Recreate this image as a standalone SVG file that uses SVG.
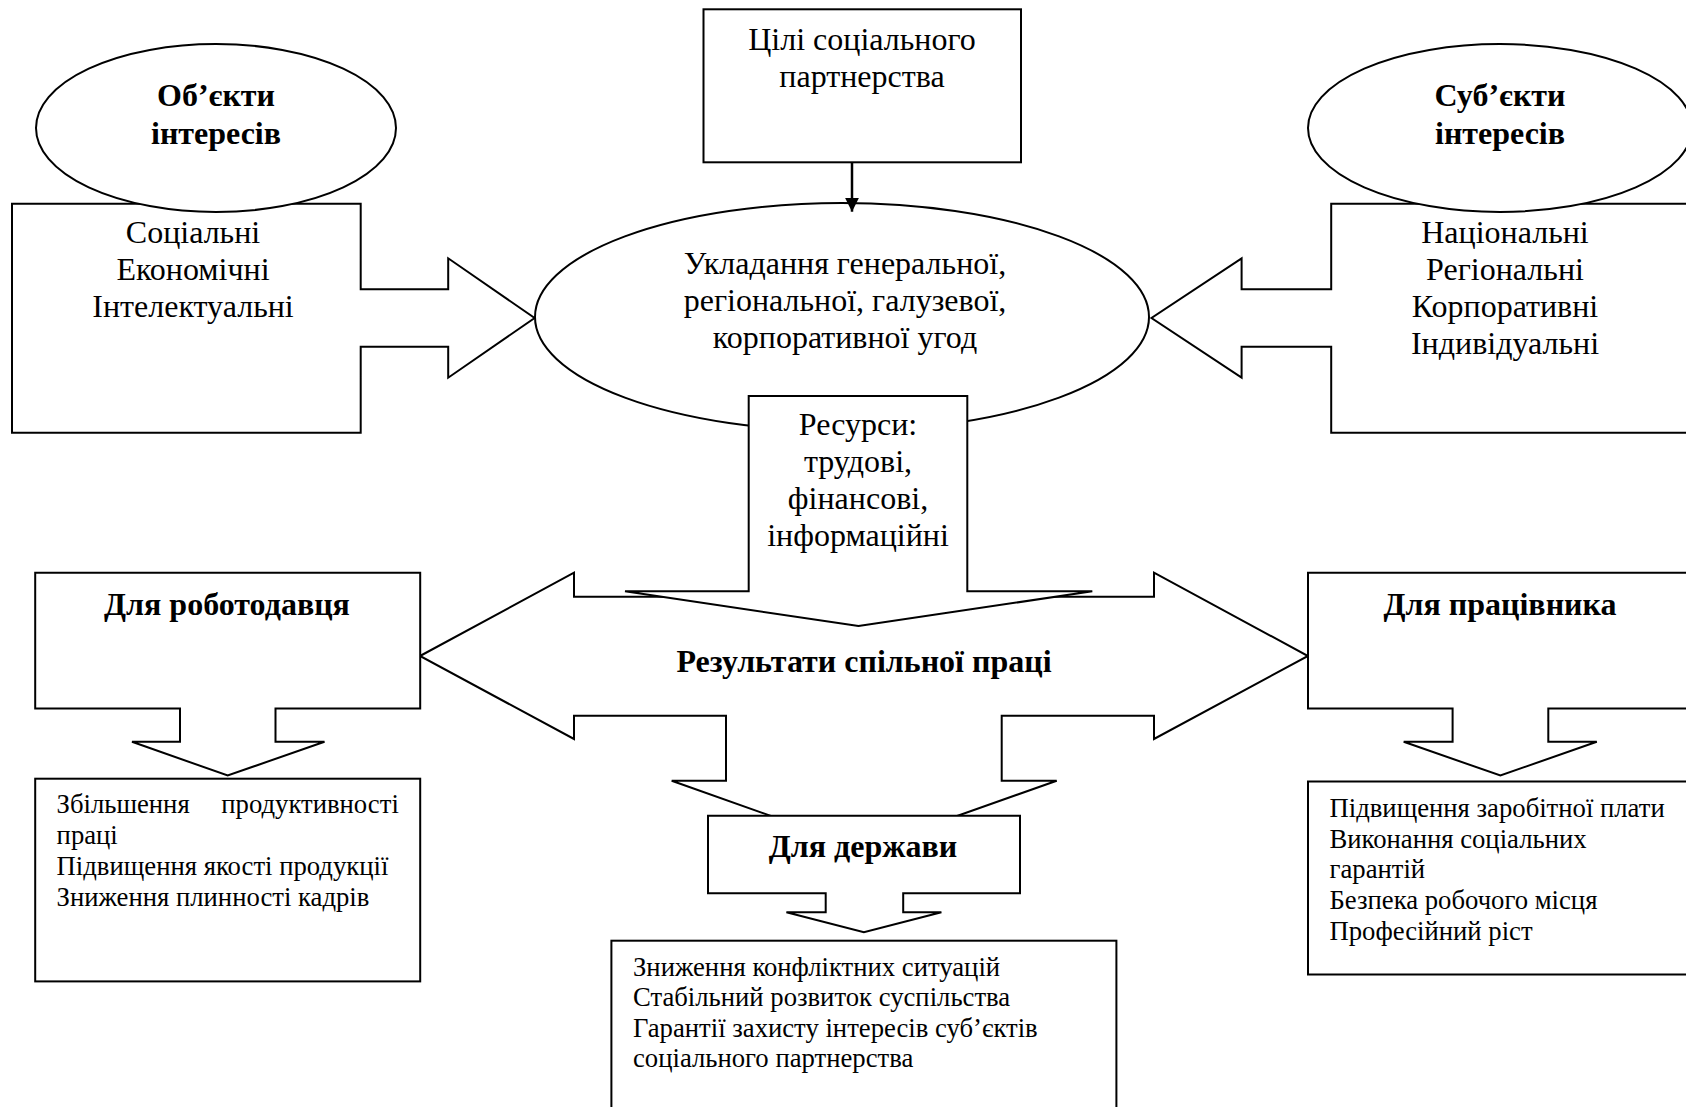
<svg xmlns="http://www.w3.org/2000/svg" width="1686" height="1107" viewBox="0 0 1686 1107">
<style>
.s{fill:#fff;stroke:#000;stroke-width:2;stroke-linejoin:miter}
.t{font-family:"Liberation Serif","Times New Roman",serif;font-size:32px;fill:#000;text-anchor:middle}
.b{font-weight:bold}
.sm{font-family:"Liberation Serif","Times New Roman",serif;font-size:26.7px;fill:#000}
</style>
<defs>
<marker id="ah" markerWidth="14" markerHeight="14" refX="14" refY="7" orient="auto" markerUnits="userSpaceOnUse" viewBox="0 0 14 14">
<path d="M0,0 L14,7 L0,14 Z" fill="#000"/>
</marker>
</defs>
<rect width="1686" height="1107" fill="#fff"/>

<g id="objects-box">
<path class="s" d="M12,203.7 H360.7 V289.3 H448.2 V258.3 L534.6,318 L448.2,377.7 V346.7 H360.7 V432.7 H12 Z"/>
<text class="t" x="193" y="243">Соціальні</text>
<text class="t" x="193" y="280">Економічні</text>
<text class="t" x="193" y="317">Інтелектуальні</text>
</g>
<g id="objects-ellipse">
<ellipse class="s" cx="216" cy="128" rx="180" ry="84"/>
<text class="t b" x="216" y="106">Об’єкти</text>
<text class="t b" x="216" y="144">інтересів</text>
</g>

<g id="subjects-box">
<path class="s" d="M1700,203.7 H1331.2 V289.3 H1241.6 V258.3 L1151.5,318 L1241.6,377.7 V346.7 H1331.2 V432.7 H1700 Z"/>
<text class="t" x="1505" y="243">Національні</text>
<text class="t" x="1505" y="280">Регіональні</text>
<text class="t" x="1505" y="317">Корпоративні</text>
<text class="t" x="1505" y="354">Індивідуальні</text>
</g>
<g id="subjects-ellipse">
<ellipse class="s" cx="1500" cy="128" rx="192" ry="84"/>
<text class="t b" x="1500" y="106">Суб’єкти</text>
<text class="t b" x="1500" y="144">інтересів</text>
</g>

<g id="goals">
<rect class="s" x="703.5" y="9.3" width="317.5" height="153"/>
<text class="t" x="862" y="50">Цілі соціального</text>
<text class="t" x="862" y="87">партнерства</text>
</g>

<g id="agreements">
<ellipse class="s" cx="842" cy="317" rx="307" ry="114"/>
<text class="t" x="845" y="274">Укладання генеральної,</text>
<text class="t" x="845" y="311">регіональної, галузевої,</text>
<text class="t" x="845" y="348">корпоративної угод</text>
</g>

<g id="results">
<path class="s" d="M420,656 L574,572.7 V596.7 H1154 V572.7 L1308,656 L1154,739 V715.7 H1001.7 V780.7 H1056.7 L864,849 L671.7,780.7 H726 V715.7 H574 V739 Z"/>
<text class="t b" x="864" y="672">Результати спільної праці</text>
</g>

<g id="resources">
<path class="s" d="M748.7,396 H967.3 V591.3 H1092.3 L858.5,626 L625,591.3 H748.7 Z"/>
<text class="t" x="858" y="435">Ресурси:</text>
<text class="t" x="858" y="472">трудові,</text>
<text class="t" x="858" y="509">фінансові,</text>
<text class="t" x="858" y="546">інформаційні</text>
</g>

<g id="employer">
<path class="s" d="M35.2,572.8 H420.2 V708.5 H275.5 V741.8 H324.5 L227.7,775.5 L132,741.8 H180 V708.5 H35.2 Z"/>
<text class="t b" x="227" y="615">Для роботодавця</text>
</g>
<g id="employer-results">
<rect class="s" x="35.2" y="778.7" width="385" height="202.7"/>
<text class="sm" x="56.6" y="813">Збільшення</text>
<text class="sm" x="398.8" y="813" text-anchor="end">продуктивності</text>
<text class="sm" x="56.6" y="844">праці</text>
<text class="sm" x="56.6" y="875">Підвищення якості продукції</text>
<text class="sm" x="56.6" y="906">Зниження плинності кадрів</text>
</g>

<g id="worker">
<path class="s" d="M1700,572.8 H1308 V708.5 H1452.6 V741.8 H1403.7 L1500.4,775.5 L1596.8,741.8 H1548.3 V708.5 H1700 Z"/>
<text class="t b" x="1500" y="615">Для працівника</text>
</g>
<g id="worker-results">
<rect class="s" x="1308" y="781.5" width="400" height="193"/>
<text class="sm" x="1329.5" y="817">Підвищення заробітної плати</text>
<text class="sm" x="1329.5" y="847.7">Виконання соціальних</text>
<text class="sm" x="1329.5" y="878.4">гарантій</text>
<text class="sm" x="1329.5" y="909.1">Безпека робочого місця</text>
<text class="sm" x="1329.5" y="939.8">Професійний ріст</text>
</g>

<g id="state">
<path class="s" d="M708,815.7 H1020 V893.3 H903.2 V912.3 H941.4 L863.9,932.3 L786.4,912.3 H825.7 V893.3 H708 Z"/>
<text class="t b" x="863" y="857">Для держави</text>
</g>
<g id="state-results">
<rect class="s" x="611.4" y="940.7" width="505" height="200"/>
<text class="sm" x="633" y="975.5">Зниження конфліктних ситуацій</text>
<text class="sm" x="633" y="1006">Стабільний розвиток суспільства</text>
<text class="sm" x="633" y="1036.5">Гарантії захисту інтересів суб’єктів</text>
<text class="sm" x="633" y="1067">соціального партнерства</text>
</g>

<g id="connectors">
<line x1="852" y1="162.3" x2="852" y2="211.7" stroke="#000" stroke-width="2.5" marker-end="url(#ah)"/>
</g>
</svg>
